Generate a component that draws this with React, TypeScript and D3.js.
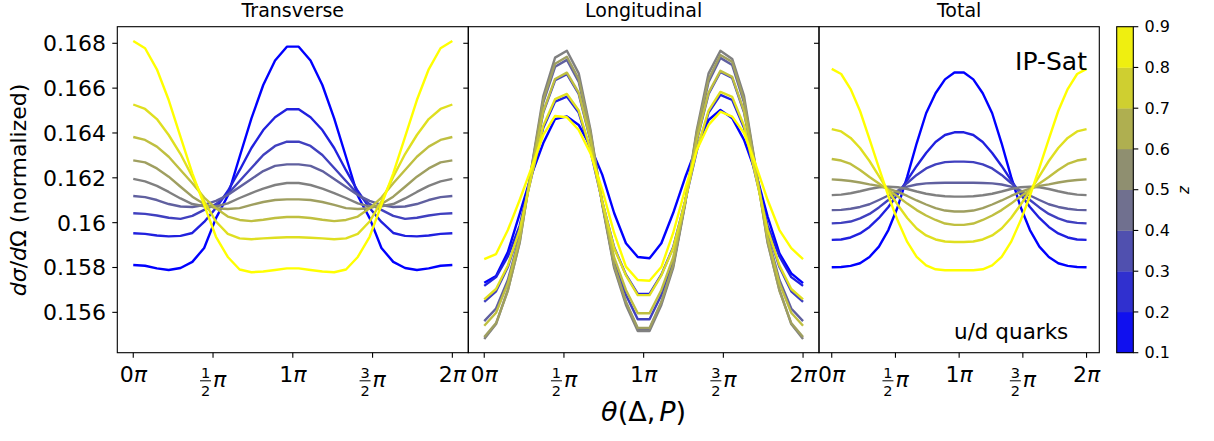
import React from "react";
import * as d3 from "d3";

// x grid in units of pi (28 points from 0 to 2pi)
const thetaOverPi = [0, 0.0741, 0.1481, 0.2222, 0.2963, 0.3704, 0.4444, 0.5185, 0.5926, 0.6667, 0.7407, 0.8148, 0.8889, 0.963, 1.037, 1.1111, 1.1852, 1.2593, 1.3333, 1.4074, 1.4815, 1.5556, 1.6296, 1.7037, 1.7778, 1.8519, 1.9259, 2.0];
const zValues = [0.1, 0.2, 0.3, 0.4, 0.5, 0.6, 0.7, 0.8, 0.9];
const panelTitles = ["Transverse", "Longitudinal", "Total"];

const transverse = [
  [0.15811, 0.15808, 0.15796, 0.15789, 0.15798, 0.15825, 0.15887, 0.16020, 0.16120, 0.16294, 0.16465, 0.16614, 0.16723, 0.16785, 0.16785, 0.16723, 0.16614, 0.16465, 0.16294, 0.16120, 0.16020, 0.15887, 0.15825, 0.15798, 0.15789, 0.15796, 0.15808, 0.15811],
  [0.15953, 0.15950, 0.15943, 0.15939, 0.15941, 0.15954, 0.16003, 0.16065, 0.16141, 0.16234, 0.16333, 0.16413, 0.16470, 0.16506, 0.16506, 0.16470, 0.16413, 0.16333, 0.16234, 0.16141, 0.16065, 0.16003, 0.15954, 0.15941, 0.15939, 0.15943, 0.15950, 0.15953],
  [0.16042, 0.16039, 0.16032, 0.16022, 0.16017, 0.16030, 0.16057, 0.16083, 0.16128, 0.16186, 0.16244, 0.16302, 0.16342, 0.16361, 0.16361, 0.16342, 0.16302, 0.16244, 0.16186, 0.16128, 0.16083, 0.16057, 0.16030, 0.16017, 0.16022, 0.16032, 0.16039, 0.16042],
  [0.16119, 0.16114, 0.16101, 0.16083, 0.16072, 0.16070, 0.16079, 0.16097, 0.16123, 0.16159, 0.16195, 0.16230, 0.16253, 0.16260, 0.16260, 0.16253, 0.16230, 0.16195, 0.16159, 0.16123, 0.16097, 0.16079, 0.16070, 0.16072, 0.16083, 0.16101, 0.16114, 0.16119],
  [0.16195, 0.16184, 0.16164, 0.16137, 0.16108, 0.16083, 0.16073, 0.16072, 0.16086, 0.16110, 0.16132, 0.16152, 0.16168, 0.16177, 0.16177, 0.16168, 0.16152, 0.16132, 0.16110, 0.16086, 0.16072, 0.16073, 0.16083, 0.16108, 0.16137, 0.16164, 0.16184, 0.16195],
  [0.16278, 0.16269, 0.16242, 0.16205, 0.16160, 0.16116, 0.16083, 0.16064, 0.16061, 0.16065, 0.16079, 0.16092, 0.16101, 0.16104, 0.16104, 0.16101, 0.16092, 0.16079, 0.16065, 0.16061, 0.16064, 0.16083, 0.16116, 0.16160, 0.16205, 0.16242, 0.16269, 0.16278],
  [0.16382, 0.16369, 0.16339, 0.16294, 0.16235, 0.16176, 0.16112, 0.16064, 0.16027, 0.16012, 0.16007, 0.16013, 0.16021, 0.16025, 0.16025, 0.16021, 0.16013, 0.16007, 0.16012, 0.16027, 0.16064, 0.16112, 0.16176, 0.16235, 0.16294, 0.16339, 0.16369, 0.16382],
  [0.16527, 0.16507, 0.16462, 0.16391, 0.16306, 0.16205, 0.16095, 0.16005, 0.15950, 0.15930, 0.15926, 0.15930, 0.15933, 0.15935, 0.15935, 0.15933, 0.15930, 0.15926, 0.15930, 0.15950, 0.16005, 0.16095, 0.16205, 0.16306, 0.16391, 0.16462, 0.16507, 0.16527],
  [0.16810, 0.16778, 0.16684, 0.16547, 0.16383, 0.16220, 0.16079, 0.15937, 0.15847, 0.15791, 0.15779, 0.15782, 0.15789, 0.15796, 0.15796, 0.15789, 0.15782, 0.15779, 0.15791, 0.15847, 0.15937, 0.16079, 0.16220, 0.16383, 0.16547, 0.16684, 0.16778, 0.16810],
];

const longitudinal = [
  [0.15732, 0.15762, 0.15869, 0.16039, 0.16213, 0.16355, 0.16462, 0.16474, 0.16436, 0.16339, 0.16213, 0.16043, 0.15908, 0.15847, 0.15841, 0.15908, 0.16043, 0.16199, 0.16339, 0.16458, 0.16503, 0.16466, 0.16369, 0.16222, 0.16027, 0.15863, 0.15774, 0.15730],
  [0.15718, 0.15757, 0.15849, 0.15987, 0.16204, 0.16423, 0.16540, 0.16562, 0.16491, 0.16320, 0.16093, 0.15890, 0.15768, 0.15682, 0.15682, 0.15768, 0.15890, 0.16093, 0.16320, 0.16491, 0.16570, 0.16547, 0.16423, 0.16204, 0.15987, 0.15849, 0.15757, 0.15718],
  [0.15647, 0.15694, 0.15802, 0.15965, 0.16224, 0.16492, 0.16635, 0.16662, 0.16574, 0.16366, 0.16087, 0.15831, 0.15678, 0.15569, 0.15569, 0.15678, 0.15831, 0.16087, 0.16366, 0.16574, 0.16672, 0.16645, 0.16492, 0.16224, 0.15965, 0.15802, 0.15694, 0.15647],
  [0.15561, 0.15617, 0.15744, 0.15937, 0.16237, 0.16536, 0.16695, 0.16726, 0.16628, 0.16396, 0.16085, 0.15808, 0.15643, 0.15526, 0.15526, 0.15643, 0.15808, 0.16085, 0.16396, 0.16628, 0.16735, 0.16703, 0.16536, 0.16237, 0.15937, 0.15744, 0.15617, 0.15561],
  [0.15481, 0.15548, 0.15700, 0.15909, 0.16244, 0.16565, 0.16736, 0.16767, 0.16666, 0.16413, 0.16079, 0.15798, 0.15633, 0.15517, 0.15517, 0.15633, 0.15798, 0.16079, 0.16413, 0.16666, 0.16767, 0.16730, 0.16565, 0.16244, 0.15909, 0.15700, 0.15548, 0.15481],
  [0.15490, 0.15552, 0.15696, 0.15915, 0.16240, 0.16546, 0.16709, 0.16740, 0.16640, 0.16402, 0.16085, 0.15811, 0.15647, 0.15530, 0.15530, 0.15647, 0.15811, 0.16085, 0.16402, 0.16640, 0.16748, 0.16717, 0.16546, 0.16240, 0.15915, 0.15696, 0.15552, 0.15490],
  [0.15540, 0.15598, 0.15730, 0.15931, 0.16226, 0.16497, 0.16641, 0.16669, 0.16580, 0.16370, 0.16089, 0.15845, 0.15700, 0.15596, 0.15596, 0.15700, 0.15845, 0.16089, 0.16370, 0.16580, 0.16677, 0.16650, 0.16497, 0.16226, 0.15931, 0.15730, 0.15598, 0.15540],
  [0.15658, 0.15704, 0.15809, 0.15969, 0.16206, 0.16432, 0.16551, 0.16574, 0.16500, 0.16326, 0.16093, 0.15887, 0.15765, 0.15677, 0.15677, 0.15765, 0.15887, 0.16093, 0.16326, 0.16500, 0.16583, 0.16561, 0.16432, 0.16206, 0.15969, 0.15809, 0.15704, 0.15658],
  [0.15837, 0.15860, 0.15967, 0.16101, 0.16244, 0.16391, 0.16476, 0.16470, 0.16413, 0.16309, 0.16146, 0.15954, 0.15804, 0.15744, 0.15741, 0.15802, 0.15954, 0.16146, 0.16324, 0.16436, 0.16495, 0.16473, 0.16400, 0.16257, 0.16101, 0.15967, 0.15886, 0.15837],
];

const total = [
  [0.15801, 0.15802, 0.15807, 0.15819, 0.15847, 0.15893, 0.15967, 0.16071, 0.16205, 0.16354, 0.16488, 0.16577, 0.16639, 0.16670, 0.16670, 0.16639, 0.16577, 0.16488, 0.16354, 0.16205, 0.16071, 0.15967, 0.15893, 0.15847, 0.15819, 0.15807, 0.15802, 0.15801],
  [0.15923, 0.15925, 0.15934, 0.15952, 0.15981, 0.16021, 0.16070, 0.16128, 0.16190, 0.16253, 0.16311, 0.16360, 0.16391, 0.16403, 0.16403, 0.16391, 0.16360, 0.16311, 0.16253, 0.16190, 0.16128, 0.16070, 0.16021, 0.15981, 0.15952, 0.15934, 0.15925, 0.15923],
  [0.15997, 0.15999, 0.16005, 0.16019, 0.16039, 0.16068, 0.16101, 0.16139, 0.16177, 0.16213, 0.16242, 0.16260, 0.16270, 0.16272, 0.16272, 0.16270, 0.16260, 0.16242, 0.16213, 0.16177, 0.16139, 0.16101, 0.16068, 0.16039, 0.16019, 0.16005, 0.15999, 0.15997],
  [0.16056, 0.16057, 0.16062, 0.16070, 0.16082, 0.16101, 0.16121, 0.16143, 0.16161, 0.16170, 0.16175, 0.16177, 0.16178, 0.16178, 0.16178, 0.16178, 0.16177, 0.16175, 0.16170, 0.16161, 0.16143, 0.16121, 0.16101, 0.16082, 0.16070, 0.16062, 0.16057, 0.16056],
  [0.16123, 0.16125, 0.16131, 0.16140, 0.16150, 0.16158, 0.16160, 0.16158, 0.16150, 0.16139, 0.16129, 0.16122, 0.16118, 0.16116, 0.16116, 0.16118, 0.16122, 0.16129, 0.16139, 0.16150, 0.16158, 0.16160, 0.16158, 0.16150, 0.16140, 0.16131, 0.16125, 0.16123],
  [0.16193, 0.16190, 0.16186, 0.16179, 0.16171, 0.16164, 0.16152, 0.16137, 0.16119, 0.16099, 0.16081, 0.16065, 0.16054, 0.16050, 0.16050, 0.16054, 0.16065, 0.16081, 0.16099, 0.16119, 0.16137, 0.16152, 0.16164, 0.16171, 0.16179, 0.16186, 0.16190, 0.16193],
  [0.16284, 0.16277, 0.16262, 0.16235, 0.16204, 0.16175, 0.16146, 0.16117, 0.16085, 0.16056, 0.16032, 0.16012, 0.15996, 0.15990, 0.15990, 0.15996, 0.16012, 0.16032, 0.16056, 0.16085, 0.16117, 0.16146, 0.16175, 0.16204, 0.16235, 0.16262, 0.16277, 0.16284],
  [0.16417, 0.16407, 0.16378, 0.16333, 0.16275, 0.16208, 0.16141, 0.16079, 0.16021, 0.15974, 0.15943, 0.15925, 0.15916, 0.15914, 0.15914, 0.15916, 0.15925, 0.15943, 0.15974, 0.16021, 0.16079, 0.16141, 0.16208, 0.16275, 0.16333, 0.16378, 0.16407, 0.16417],
  [0.16686, 0.16663, 0.16596, 0.16498, 0.16373, 0.16244, 0.16119, 0.16008, 0.15914, 0.15847, 0.15809, 0.15792, 0.15788, 0.15788, 0.15788, 0.15788, 0.15792, 0.15809, 0.15847, 0.15914, 0.16008, 0.16119, 0.16244, 0.16373, 0.16498, 0.16596, 0.16663, 0.16686],
];

const yTicks = [0.156, 0.158, 0.16, 0.162, 0.164, 0.166, 0.168];
const xTicks = [0, 0.5, 1, 1.5, 2];
const xTickLabels = [
  { whole: "0" },
  { num: "1", den: "2" },
  { whole: "1" },
  { num: "3", den: "2" },
  { whole: "2" },
];
const cbTicks = [0.1, 0.2, 0.3, 0.4, 0.5, 0.6, 0.7, 0.8, 0.9];

const FONT = "DejaVu Sans, sans-serif";
const TOP = 26.7;
const BOTTOM = 352.7;
const panels = [
  { x0: 117.3, x1: 468.3, data: transverse },
  { x0: 468.3, x1: 819, data: longitudinal },
  { x0: 819, x1: 1099.3, data: total },
];

const cmap = d3.interpolateRgb("#0000ff", "#ffff00");
const zNorm = d3.scaleLinear().domain([0.1, 0.9]).range([0, 1]);

export default function App() {
  const y = d3.scaleLinear().domain([0.1542, 0.16874]).range([BOTTOM, TOP]);
  const cbX0 = 1116.7;
  const cbX1 = 1133.3;
  const cbY = d3.scaleLinear().domain([0.1, 0.9]).range([BOTTOM, TOP]);
  const bands = d3.range(8);

  return (
    <div style={{ position: "absolute", left: 0, top: 0 }}>
      <svg width={1214} height={441} style={{ display: "block", background: "#fff" }}>
        {panels.map((p, pi) => {
          const x = d3.scaleLinear().domain([-0.1, 2.1]).range([p.x0, p.x1]);
          const line = d3
            .line<number>()
            .x((_, i) => x(thetaOverPi[i]))
            .y((d) => y(d));
          return (
            <g key={pi}>
              {p.data.map((series, si) => (
                <path
                  key={si}
                  d={line(series) || ""}
                  fill="none"
                  stroke={cmap(zNorm(zValues[si]))}
                  strokeWidth={2.4}
                  strokeLinejoin="round"
                />
              ))}
              <rect
                x={p.x0}
                y={TOP}
                width={p.x1 - p.x0}
                height={BOTTOM - TOP}
                fill="none"
                stroke="#000"
                strokeWidth={1.1}
              />
              <text
                x={(p.x0 + p.x1) / 2}
                y={17}
                textAnchor="middle"
                fontFamily={FONT}
                fontSize={19}
              >
                {panelTitles[pi]}
              </text>
              {yTicks.map((t) => (
                <line key={t} x1={p.x0 - 5} x2={p.x0} y1={y(t)} y2={y(t)} stroke="#000" strokeWidth={1.1} />
              ))}
              {pi === 0 &&
                yTicks.map((t) => (
                  <text
                    key={"l" + t}
                    x={106}
                    y={y(t)}
                    dy="0.36em"
                    textAnchor="end"
                    fontFamily={FONT}
                    fontSize={22}
                  >
                    {String(+t.toFixed(3))}
                  </text>
                ))}
              {xTicks.map((t, ti) => {
                const tx = x(t);
                const lab = xTickLabels[ti];
                return (
                  <g key={t}>
                    <line x1={tx} x2={tx} y1={BOTTOM} y2={BOTTOM + 5} stroke="#000" strokeWidth={1.1} />
                    {lab.whole !== undefined ? (
                      <text x={tx} y={382} textAnchor="middle" fontFamily={FONT} fontSize={22}>
                        {lab.whole}
                        <tspan fontStyle="italic">π</tspan>
                      </text>
                    ) : (
                      <g>
                        <text x={tx - 7.5} y={378} textAnchor="middle" fontFamily={FONT} fontSize={14.5}>
                          {lab.num}
                        </text>
                        <line x1={tx - 13} x2={tx - 2} y1={380.8} y2={380.8} stroke="#000" strokeWidth={1} />
                        <text x={tx - 7.5} y={396} textAnchor="middle" fontFamily={FONT} fontSize={14.5}>
                          {lab.den}
                        </text>
                        <text x={tx} y={387} textAnchor="start" fontFamily={FONT} fontSize={22} fontStyle="italic">
                          π
                        </text>
                      </g>
                    )}
                  </g>
                );
              })}
            </g>
          );
        })}

        {/* annotations */}
        <text x={1087} y={70} textAnchor="end" fontFamily={FONT} fontSize={25}>
          IP-Sat
        </text>
        <text x={954} y={339} textAnchor="start" fontFamily={FONT} fontSize={21.5}>
          u/d quarks
        </text>

        {/* y label */}
        <text
          transform="translate(26,190) rotate(-90)"
          textAnchor="middle"
          fontFamily={FONT}
          fontSize={22}
        >
          <tspan fontStyle="italic">dσ</tspan>
          <tspan>/</tspan>
          <tspan fontStyle="italic">d</tspan>
          <tspan>Ω (normalized)</tspan>
        </text>

        {/* x label */}
        <text x={643.6} y={421} textAnchor="middle" fontFamily={FONT} fontSize={27}>
          <tspan fontStyle="italic">θ</tspan>
          <tspan>(Δ,</tspan>
          <tspan dx={4} fontStyle="italic">P</tspan>
          <tspan>)</tspan>
        </text>

        {/* colorbar */}
        {bands.map((k) => (
          <rect
            key={k}
            x={cbX0}
            y={cbY(0.1 + (k + 1) * 0.1)}
            width={cbX1 - cbX0}
            height={cbY(0.1 + k * 0.1) - cbY(0.1 + (k + 1) * 0.1) + 0.3}
            fill={cmap((k + 0.5) / 8)}
          />
        ))}
        <rect x={cbX0} y={TOP} width={cbX1 - cbX0} height={BOTTOM - TOP} fill="none" stroke="#000" strokeWidth={1.1} />
        {cbTicks.map((t) => (
          <g key={t}>
            <line x1={cbX1} x2={cbX1 + 5} y1={cbY(t)} y2={cbY(t)} stroke="#000" strokeWidth={1.1} />
            <text x={1144.5} y={cbY(t)} dy="0.36em" fontFamily={FONT} fontSize={16}>
              {t.toFixed(1)}
            </text>
          </g>
        ))}
        <text
          transform="translate(1189,190) rotate(-90)"
          textAnchor="middle"
          fontFamily={FONT}
          fontSize={15}
          fontStyle="italic"
        >
          z
        </text>
      </svg>
    </div>
  );
}
